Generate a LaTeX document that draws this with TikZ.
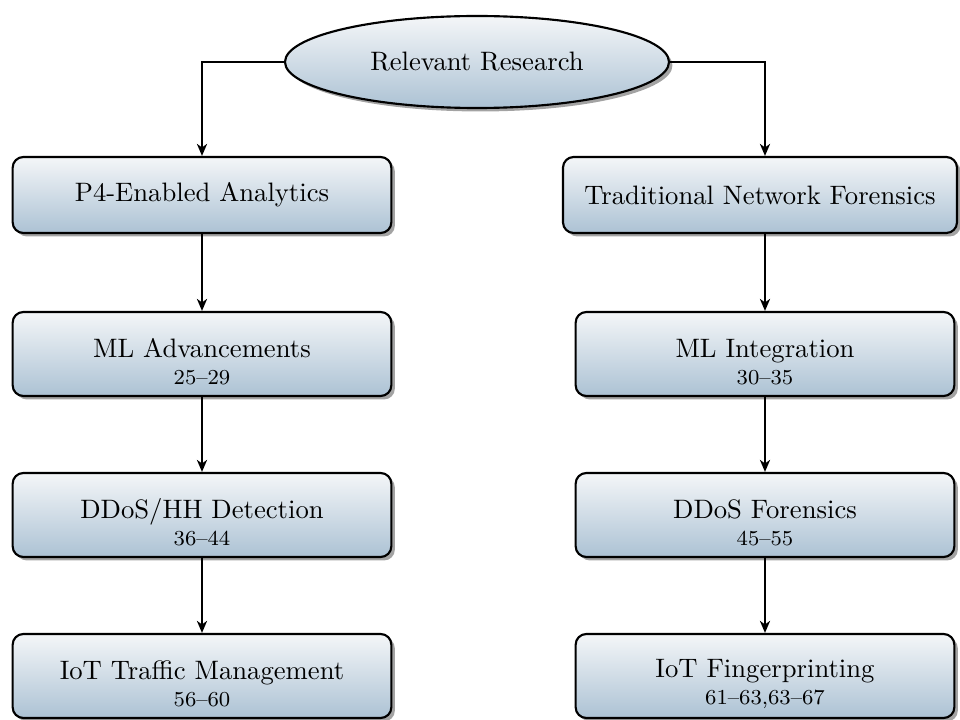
\documentclass[tikz,border=0pt]{standalone}
\usetikzlibrary{shapes.geometric,shadows,arrows.meta}
\definecolor{boxtop}{RGB}{244,246,248}
\definecolor{boxbot}{RGB}{172,194,212}
\begin{document}
\begin{tikzpicture}[x=0.375pt,y=-0.375pt,
  base/.style={draw=black,line width=0.8pt,top color=boxtop,bottom color=boxbot,
    drop shadow={shadow xshift=1.3pt,shadow yshift=-1.3pt,fill=black!60,opacity=0.6},
    font=\normalsize,align=center,inner sep=0pt},
  boxone/.style={base,rounded corners=4pt,minimum width=142pt,minimum height=28.5pt},
  boxtwo/.style={base,rounded corners=4pt,minimum width=142pt,minimum height=31.5pt},
  rootnode/.style={base,ellipse,minimum width=144pt,minimum height=34.5pt},
  arr/.style={line width=0.75pt,-{Stealth[length=4.5pt,width=3.8pt,inset=1.3pt]}}]
\useasboundingbox (0,0) rectangle (960,720);
\node[rootnode] (root) at (477,62) {Relevant Research};
\node[boxone] (l1) at (202,195) {P4-Enabled Analytics};
\node[boxtwo] (l2) at (202,354) {\rule{0pt}{13pt}ML Advancements\\[-2pt]{\footnotesize 25--29}};
\node[boxtwo] (l3) at (202,515) {\rule{0pt}{13pt}DDoS/HH Detection\\[-2pt]{\footnotesize 36--44}};
\node[boxtwo] (l4) at (202,676) {\rule{0pt}{13pt}IoT Traffic Management\\[-2pt]{\footnotesize 56--60}};
\node[boxone,minimum width=147.75pt] (r1) at (760,195) {Traditional Network Forensics};
\node[boxtwo] (r2) at (765,354) {\rule{0pt}{13pt}ML Integration\\[-2pt]{\footnotesize 30--35}};
\node[boxtwo] (r3) at (765,515) {\rule{0pt}{13pt}DDoS Forensics\\[-2pt]{\footnotesize 45--55}};
\node[boxtwo] (r4) at (765,676) {\rule{0pt}{13pt}IoT Fingerprinting\\[-2pt]{\footnotesize 61--63,63--67}};
\draw[arr] (root.west) -| (l1.north);
\draw[arr] (root.east) -| (r2.north |- r1.north);
\draw[arr] (l1.south) -- (l2.north);
\draw[arr] (l2.south) -- (l3.north);
\draw[arr] (l3.south) -- (l4.north);
\draw[arr] (r2.north |- r1.south) -- (r2.north);
\draw[arr] (r2.south) -- (r3.north);
\draw[arr] (r3.south) -- (r4.north);
\end{tikzpicture}
\end{document}
